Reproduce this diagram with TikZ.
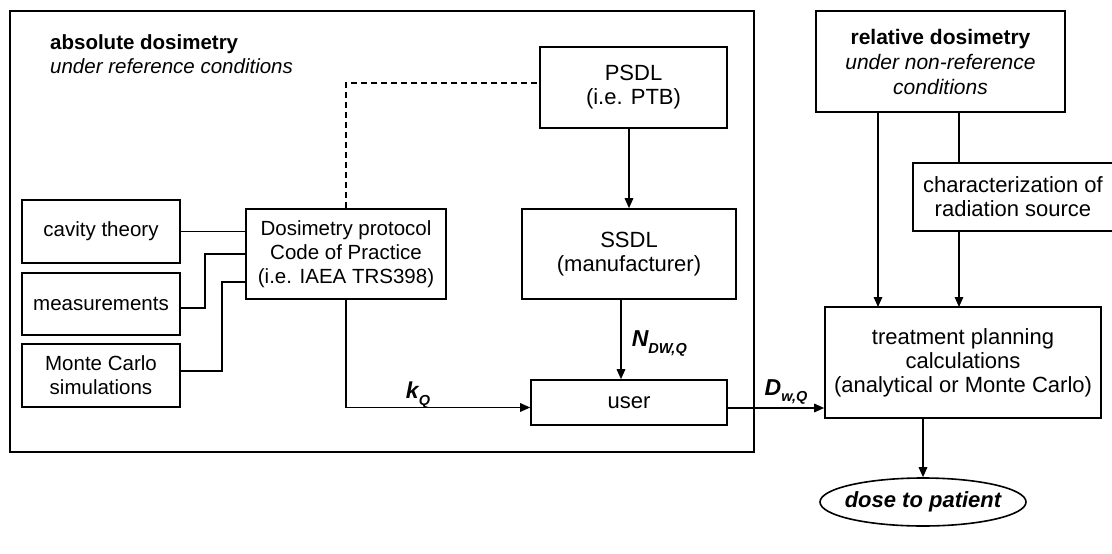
\documentclass[tikz,border=0pt]{standalone}
\usepackage{fontspec}
\setmainfont{Liberation Sans}
\usetikzlibrary{arrows.meta,shapes.geometric,calc}
\newcommand\szS{\fontsize{20.5}{24}\selectfont}
\newcommand\szM{\fontsize{21}{25}\selectfont}
\newcommand\szL{\fontsize{22}{24}\selectfont}
\newcommand\subsz{\fontsize{14.5}{14.5}\selectfont}
\tikzset{
  box/.style={draw, line width=1.6pt, align=center, inner sep=0pt, font=\szL},
  sbox/.style={box, font=\szS},
  link/.style={line width=1.6pt},
  arr/.style={link, -{Triangle[length=10pt,width=8.5pt]}},
  qty/.style={font=\fontsize{23}{24}\selectfont\bfseries\itshape, inner sep=0pt}
}
\begin{document}
\begin{tikzpicture}[x=1pt,y=-1pt]
\useasboundingbox (0,0) rectangle (1112,554);

% frame of the absolute dosimetry part
\node[draw, line width=1.6pt, minimum width=744pt, minimum height=441pt, inner sep=0pt] (frame) at (382,231.5) {};
\node[anchor=west, align=left, inner sep=0pt, font=\szS] (abstitle) at (50,54)
  {\textbf{absolute dosimetry}\\\textit{under reference conditions}};

% inputs to the code of practice
\node[sbox, minimum width=158pt, minimum height=63pt] (cav) at (101,231.5) {cavity theory};
\node[sbox, minimum width=158pt, minimum height=62pt] (meas) at (101,304) {measurements};
\node[sbox, minimum width=158pt, minimum height=63pt] (mc) at (101,375.5) {Monte Carlo\\simulations};
\node[sbox, minimum width=200pt, minimum height=90pt] (cop) at (346,254) {Dosimetry protocol\\Code of Practice\\(i.e. IAEA TRS398)};

% calibration chain
\node[box, minimum width=187pt, minimum height=81pt] (psdl) at (633.5,87.5) {PSDL\\(i.e. PTB)};
\node[box, minimum width=214pt, minimum height=90pt] (ssdl) at (629,254) {SSDL\\(manufacturer)};
\node[box, minimum width=196pt, minimum height=45pt] (user) at (629,402.5) {user};

% relative dosimetry and planning
\node[box, font=\szM, minimum width=249pt, minimum height=101pt] (rel) at (940.5,61.5)
  {\textbf{relative dosimetry}\\\textit{under non-reference}\\\textit{conditions}};
\node[box, minimum width=200pt, minimum height=68pt] (src) at (1013,197) {characterization of\\radiation source};
\node[box, minimum width=276pt, minimum height=111pt] (tps) at (963,362.5) {treatment planning\\calculations\\(analytical or Monte Carlo)};
\node[draw, ellipse, line width=1.6pt, minimum width=206pt, minimum height=48pt, inner xsep=-6pt, inner ysep=0pt, font=\szL\bfseries\itshape] (dose) at (923,502) {dose to patient};

% connectors on the left
\draw[link] (cav.east) -- (cav.east -| cop.west);
\draw[link] ([yshift=-4pt]meas.east) -- (205,308) |- (cop.west);
\draw[link] ([yshift=4.5pt]mc.east) -- (222,371) |- ([yshift=-28pt]cop.west);
\draw[link, dash pattern=on 6pt off 4pt] (cop.north) |- ([yshift=4.5pt]psdl.west);

% calibration chain arrows
\draw[arr] (psdl.south -| ssdl.north) -- (ssdl.north);
\draw[arr] ([xshift=-8pt]ssdl.south) -- ([xshift=-8pt]user.north)
  node[qty, pos=0.55, anchor=west, xshift=10pt] (ndw) {N\raisebox{-0.3em}{\subsz DW,Q}};
\coordinate (kin) at ([yshift=-5pt]user.west);
\draw[arr] (cop.south) |- (kin);
\node[qty] (kq) at (418,395) {k\raisebox{-0.3em}{\subsz Q}};
\coordinate (dout) at ([yshift=-5.5pt]user.east);
\draw[arr] (dout) -- (dout -| tps.west);
\node[qty] (dwq) at (786,392) {D\raisebox{-0.3em}{\subsz w,Q}};

% right-hand chain
\draw[arr] (878,112) -- (878,307);
\draw[link] (959,112) -- (959,163);
\draw[arr] (959,231) -- (959,307);
\draw[arr] (tps.south -| dose.north) -- (dose.north);
\end{tikzpicture}
\end{document}
